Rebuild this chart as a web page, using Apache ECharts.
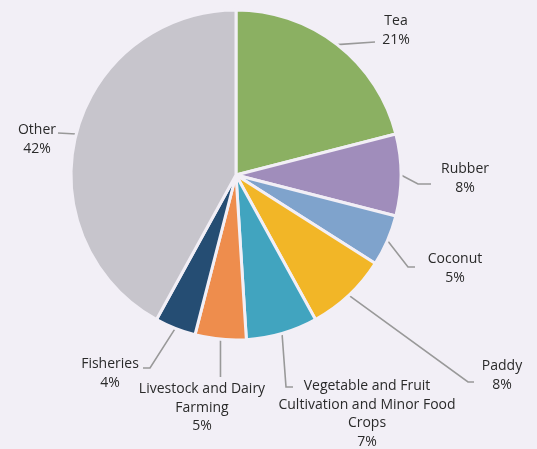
<!DOCTYPE html>
<html>
<head>
<meta charset="utf-8">
<script src="https://cdn.jsdelivr.net/npm/echarts@6/dist/echarts.min.js"></script>
<style>
  html, body { margin: 0; padding: 0; background: #f2eff6; }
  #chart { width: 537px; height: 449px; }
</style>
</head>
<body>
<div id="chart"></div>
<script>
// Sector shares of the economy (percent)
const categories = [
  'Tea',
  'Rubber',
  'Coconut',
  'Paddy',
  'Vegetable and Fruit\nCultivation and Minor Food\nCrops',
  'Livestock and Dairy\nFarming',
  'Fisheries',
  'Other'
];
const shares = [21, 8, 5, 8, 7, 5, 4, 42];
const colors = ['#8bb062', '#a08dbb', '#7fa3cc', '#f2b627', '#41a4bf', '#ee8d4d', '#254d73', '#c7c5cc'];

// Label placement: anchor = centre x / top y of the text block,
// end = where the leader line meets the label (relative to anchor), tail = horizontal run.
const labelPlacement = [
  { cx: 396, top: 12,  dx: -21, dy: 30,   tail: 0 },
  { cx: 465, top: 160, dx: -34, dy: 24,   tail: 13 },
  { cx: 455, top: 250, dx: -40, dy: 17,   tail: 7 },
  { cx: 502, top: 357, dx: -28, dy: 25,   tail: 6 },
  { cx: 367, top: 377, dx: -74, dy: 10,   tail: 7 },
  { cx: 202, top: 380, dx: null, dy: -3,  tail: 0 },
  { cx: 110, top: 355, dx: 33,  dy: 13,   tail: -7 },
  { cx: 37,  top: 121, dx: 21,  dy: 12,   tail: 0 }
];

const chart = echarts.init(document.getElementById('chart'), null, { renderer: 'canvas' });

const option = {
  backgroundColor: '#f2eff6',
  animation: false,
  series: [{
    type: 'pie',
    center: [236, 175],
    radius: [0, 165],
    startAngle: 90,
    clockwise: true,
    avoidLabelOverlap: false,
    data: categories.map((name, i) => ({
      name: name,
      value: shares[i],
      itemStyle: { color: colors[i] }
    })),
    itemStyle: { borderColor: '#f2eff6', borderWidth: 3 },
    label: {
      show: true,
      formatter: '{b}\n{c}%',
      fontFamily: 'Open Sans',
      fontSize: 14,
      lineHeight: 18.5,
      color: '#2a2a2a',
      align: 'center'
    },
    labelLine: {
      show: true,
      length: 10,
      length2: 10,
      smooth: false,
      lineStyle: { color: '#999999', width: 1.6 }
    },
    labelLayout: function (params) {
      const p = labelPlacement[params.dataIndex];
      const start = params.labelLinePoints ? params.labelLinePoints[0] : [0, 0];
      const endX = p.dx === null ? start[0] : p.cx + p.dx;
      const endY = p.top + p.dy;
      const elbow = [endX - p.tail, endY];
      return {
        x: p.cx,
        y: p.top,
        align: 'center',
        verticalAlign: 'top',
        labelLinePoints: [start, elbow, [endX, endY]]
      };
    }
  }]
};

chart.setOption(option);
</script>
</body>
</html>
